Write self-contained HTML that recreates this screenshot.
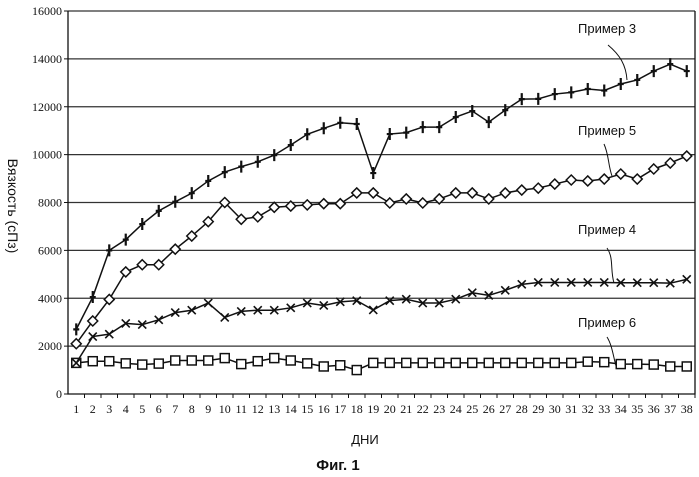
<!DOCTYPE html>
<html><head><meta charset="utf-8"><style>
body{margin:0;background:#fff;}
svg{display:block;}
.t{font-family:"Liberation Serif",serif;font-size:12px;fill:#111;}
.s{font-family:"Liberation Sans",sans-serif;font-size:13px;fill:#111;}
</style></head><body>
<svg id="chart" width="699" height="477" viewBox="0 0 699 477">
<g id="grid"></g><g id="axes"></g><g id="series"></g>
<g>
<text class="s" x="578" y="33">Пример 3</text>
<path d="M608 45 C620 55,626 65,627 80" fill="none" stroke="#111"/>
<text class="s" x="578" y="135">Пример 5</text>
<path d="M604 144 C609 155,608 165,612 176" fill="none" stroke="#111"/>
<text class="s" x="578" y="234">Пример 4</text>
<path d="M607 248 C614 258,610 270,614 283" fill="none" stroke="#111"/>
<text class="s" x="578" y="327">Пример 6</text>
<path d="M607 337 C612 345,613 355,616 366" fill="none" stroke="#111"/>
<text class="s" transform="translate(8,206) rotate(90)" text-anchor="middle" style="font-size:14px">Вязкость (сПз)</text>
<text class="s" x="365" y="444" text-anchor="middle">ДНИ</text>
<text x="338" y="470" text-anchor="middle" style="font-family:'Liberation Sans',sans-serif;font-size:15px;font-weight:bold;fill:#111">Фиг. 1</text>
</g>
</svg>
<script>
const days=[1,2,3,4,5,6,7,8,9,10,11,12,13,14,15,16,17,18,19,20,21,22,23,24,25,26,27,28,29,30,31,32,33,34,35,36,37,38];
const yTicks=[0,2000,4000,6000,8000,10000,12000,14000,16000];
const ex3=[2700,4050,6000,6450,7100,7650,8030,8390,8900,9270,9500,9700,9980,10400,10850,11100,11330,11280,9230,10860,10920,11150,11150,11570,11820,11360,11860,12320,12330,12530,12600,12740,12680,12950,13120,13490,13780,13490];
const ex5=[2100,3050,3950,5100,5400,5400,6050,6600,7200,8000,7300,7400,7800,7850,7900,7950,7950,8400,8400,7980,8150,7980,8150,8400,8400,8150,8400,8520,8600,8770,8940,8900,8980,9190,8980,9400,9650,9940];
const ex4=[1300,2400,2500,2950,2900,3100,3400,3500,3800,3200,3450,3500,3500,3600,3800,3700,3850,3900,3510,3900,3960,3800,3800,3960,4230,4120,4330,4580,4660,4660,4660,4660,4660,4650,4650,4650,4630,4790];
const ex6=[1300,1370,1370,1280,1230,1270,1400,1400,1400,1500,1250,1370,1500,1400,1280,1150,1200,1000,1300,1300,1300,1300,1300,1300,1300,1300,1300,1300,1300,1300,1300,1350,1330,1250,1250,1230,1150,1150];
const L=68,R=695,T=11,B=394,NS="http://www.w3.org/2000/svg";
const xs=i=>L+(i+0.5)*(R-L)/days.length;
const ys=v=>B-v/16000*(B-T);
function el(p,tag,a){const e=document.createElementNS(NS,tag);for(const k in a)e.setAttribute(k,a[k]);p.appendChild(e);return e;}
const grid=document.getElementById('grid'),axes=document.getElementById('axes'),ser=document.getElementById('series');
yTicks.forEach(v=>{
 if(v>0){const g=el(grid,'line',{x1:L,x2:R,y1:ys(v),y2:ys(v),stroke:'#333','stroke-width':1.2});
 
 }
 const tk=el(axes,'line',{x1:L-4,x2:L,y1:ys(v),y2:ys(v),stroke:'#111'});
 
 
 const t=el(axes,'text',{x:L-6,y:ys(v)+4,'text-anchor':'end',class:'t'});t.textContent=v;
 
 
});
const ax=el(axes,'path',{d:`M${L} ${T}V${B}H${R}V${T}`,fill:'none',stroke:'#111','stroke-width':1.3});


days.forEach((d,i)=>{
 const x=L+(i+1)*(R-L)/days.length;
 const tk=el(axes,'line',{x1:x,x2:x,y1:B,y2:B+4,stroke:'#111'});
 
 
 const t=el(axes,'text',{x:xs(i),y:413,'text-anchor':'middle',class:'t'});t.textContent=d;
 
 
});
function series(arr,name,mk){
 const g=el(ser,'g',{});
 
 
 const p=el(g,'polyline',{points:arr.map((v,i)=>xs(i)+','+ys(v)).join(' '),fill:'none',stroke:'#111','stroke-width':1.5});
 
 
 arr.forEach((v,i)=>{const x=xs(i),y=ys(v);let m;
  if(mk==='plus'){m=el(g,'path',{d:`M${x} ${y-6}V${y+6}M${x-3} ${y}H${x+3}`,stroke:'#111','stroke-width':2.2});}
  else if(mk==='diamond'){m=el(g,'path',{d:`M${x} ${y-5}L${x+5} ${y}L${x} ${y+5}L${x-5} ${y}Z`,fill:'#fff',stroke:'#111','stroke-width':1.5});}
  else if(mk==='x'){m=el(g,'path',{d:`M${x-4} ${y-4}L${x+4} ${y+4}M${x-4} ${y+4}L${x+4} ${y-4}`,stroke:'#111','stroke-width':1.6});}
  else {m=el(g,'rect',{x:x-4.5,y:y-4.5,width:9,height:9,fill:'#fff',stroke:'#111','stroke-width':1.5});}
  
  
 });
}
series(ex6,'series-example-6','square');
series(ex4,'series-example-4','x');
series(ex5,'series-example-5','diamond');
series(ex3,'series-example-3','plus');
</script>
</body></html>
